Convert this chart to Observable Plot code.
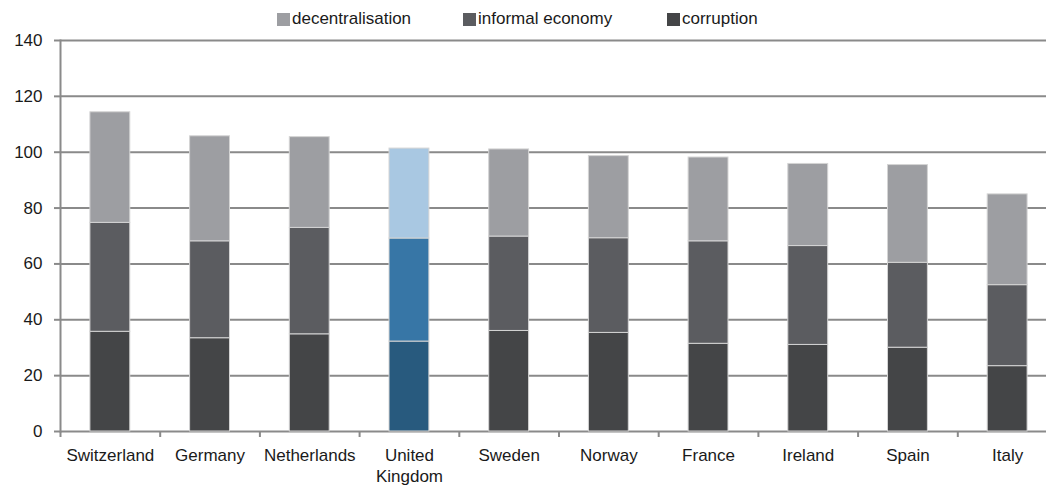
<!DOCTYPE html>
<html>
<head>
<meta charset="utf-8">
<script src="https://cdn.jsdelivr.net/npm/d3@7"></script>
<script src="https://cdn.jsdelivr.net/npm/@observablehq/plot@0.6"></script>
<style>
  html, body { margin: 0; padding: 0; background: #fff; }
  body { width: 1046px; height: 493px; overflow: hidden; font-family: "Liberation Sans", Arial, sans-serif; }
  #legend { position: relative; height: 20px; }
  #legend .item { position: absolute; top: 8px; display: flex; align-items: center; font-size: 17px; color: #1a1a1a; line-height: 22px; }
  #legend .sw { width: 13px; height: 13px; margin-right: 2px; }
  svg { display: block; overflow: visible; }
</style>
</head>
<body>
<div id="legend"></div>
<div id="chart"></div>
<script>
// ---- data ----
const countries = ["Switzerland", "Germany", "Netherlands", "United Kingdom", "Sweden", "Norway", "France", "Ireland", "Spain", "Italy"];
const series = ["corruption", "informal economy", "decentralisation"];
const corruption       = [35.7, 33.4, 34.8, 32.2, 36.0, 35.3, 31.4, 31.0, 30.0, 23.4];
const informalEconomy  = [39.0, 34.7, 38.1, 36.9, 33.8, 33.9, 36.7, 35.4, 30.4, 29.0];
const decentralisation = [39.6, 37.6, 32.5, 32.2, 31.2, 29.4, 30.0, 29.4, 35.0, 32.5];
const yTicks = [0, 20, 40, 60, 80, 100, 120, 140];
const legendOrder = ["decentralisation", "informal economy", "corruption"];
const highlight = "United Kingdom";

// ---- styles ----
const greyColors = {"corruption": "#444547", "informal economy": "#5b5c60", "decentralisation": "#9d9ea2"};
const blueColors = {"corruption": "#285a7e", "informal economy": "#3776a6", "decentralisation": "#a9c8e2"};
const legendLeft = [277, 463, 667];
const fontFamily = '"Liberation Sans", Arial, sans-serif';

const valuesBySeries = {"corruption": corruption, "informal economy": informalEconomy, "decentralisation": decentralisation};
const table = [];
countries.forEach((c, i) => {
  series.forEach(s => {
    table.push({country: c, series: s, value: valuesBySeries[s][i],
      color: (c === highlight ? blueColors : greyColors)[s]});
  });
});

// legend
const legend = d3.select("#legend");
legendOrder.forEach((s, i) => {
  const it = legend.append("div").attr("class", "item").style("left", legendLeft[i] + "px");
  it.append("div").attr("class", "sw").style("background", greyColors[s]);
  it.append("span").text(s);
});

const rangeX = [60, 1057];
const step = (rangeX[1] - rangeX[0]) / countries.length;
const gridColor = "#8a8a8a";

const chart = Plot.plot({
  width: 1046,
  height: 473,
  marginTop: 20,
  marginBottom: 62,
  marginLeft: 60,
  marginRight: 0,
  style: {fontFamily, fontSize: "17px", color: "#1a1a1a", background: "#fff", overflow: "visible"},
  x: {domain: countries, range: rangeX, paddingInner: 0.6, paddingOuter: 0.3, round: false, axis: null},
  y: {domain: [0, 140], axis: null},
  color: {type: "identity"},
  marks: [
    Plot.ruleY(yTicks, {stroke: gridColor, strokeWidth: 2}),
    Plot.barY(table, {x: "country", y: "value", z: "series", order: series, fill: "color",
      stroke: "#d4d4d4", strokeWidth: 1}),
    Plot.frame({anchor: "left", stroke: gridColor, strokeWidth: 2}),
    Plot.axisY({ticks: yTicks, tickSize: 6, tickPadding: 12, stroke: gridColor, strokeWidth: 2,
      fontSize: 17, fill: "#1a1a1a", label: null}),
    Plot.axisX({tickSize: 6, dx: -step / 2, stroke: gridColor, strokeWidth: 2,
      tickFormat: () => "", label: null}),
    Plot.axisX({tickSize: 0, tickPadding: 15, fontSize: 17, fill: "#1a1a1a", lineHeight: 1.22,
      tickFormat: d => d.replace(" ", "\n"), label: null})
  ]
});
document.getElementById("chart").appendChild(chart);
</script>
</body>
</html>
